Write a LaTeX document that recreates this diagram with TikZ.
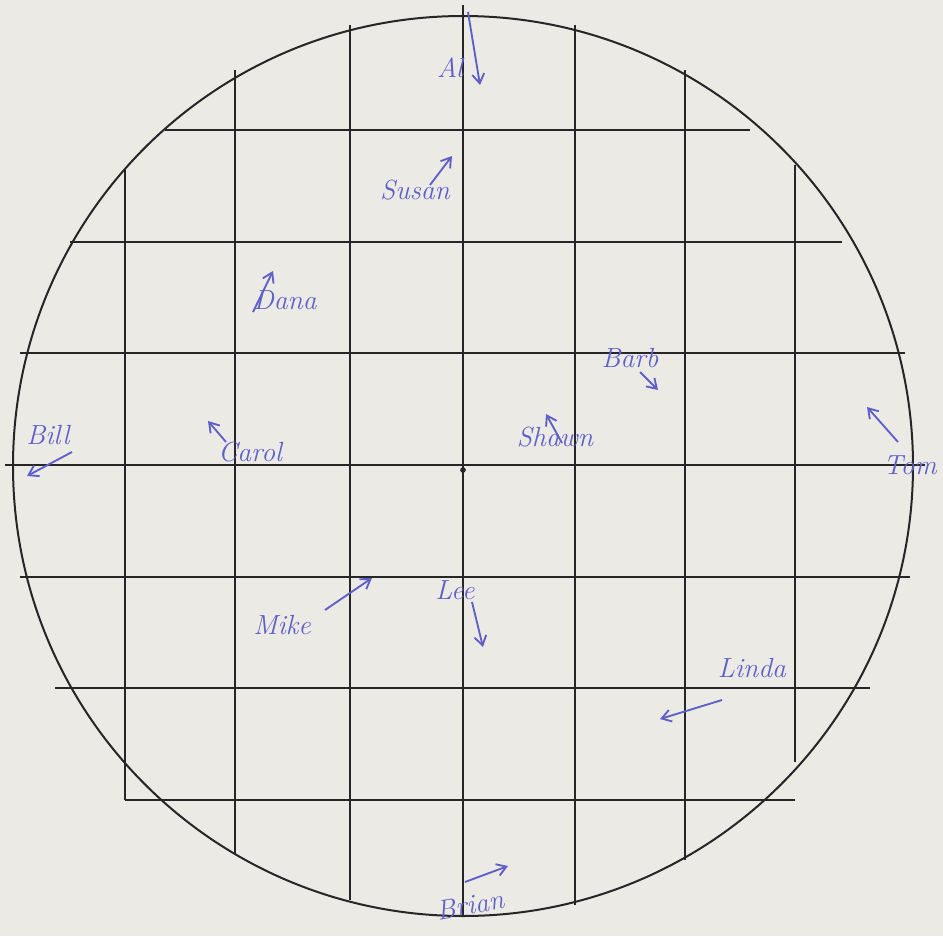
\documentclass[tikz,border=0pt]{standalone}
\usetikzlibrary{arrows.meta}
\definecolor{paper}{RGB}{236,234,229}
\definecolor{pencil}{RGB}{38,38,38}
\definecolor{ink}{RGB}{95,95,200}
\tikzset{
  gridline/.style={draw=pencil, line width=1.5pt},
  personname/.style={text=ink, font=\itshape\huge, inner sep=1pt},
  arr/.style={draw=ink, line width=1.4pt, -{Straight Barb[length=7pt,width=9pt]}},
}
\begin{document}
\begin{tikzpicture}[x=0.75pt,y=-0.75pt]
\path[fill=paper] (0,0) rectangle (943,936);
\useasboundingbox (0,0) rectangle (943,936);
% horizontal grid lines
\draw[gridline] (165,130) -- (750,130);
\draw[gridline] (70,242) -- (842,242);
\draw[gridline] (20,353) -- (905,353);
\draw[gridline] (5,465) -- (925,465);
\draw[gridline] (20,577) -- (910,577);
\draw[gridline] (55,688) -- (870,688);
\draw[gridline] (125,800) -- (795,800);
% vertical grid lines
\draw[gridline] (125,170) -- (125,800);
\draw[gridline] (235,70) -- (235,855);
\draw[gridline] (350,25) -- (350,900);
\draw[gridline] (463,5) -- (463,915);
\draw[gridline] (575,25) -- (575,905);
\draw[gridline] (685,70) -- (685,860);
\draw[gridline] (795,165) -- (795,762);
% circle
\node[draw=pencil, line width=1.5pt, circle, minimum size=675pt, inner sep=0pt] (rim) at (463,466) {};
\node[fill=pencil, circle, inner sep=1.5pt] (centre) at (463,470) {};
% names
\node[personname] (al) at (450,68) {Al};
\node[personname] (susan) at (415,190) {Susan};
\node[personname] (dana) at (285,300) {Dana};
\node[personname] (barb) at (630,358) {Barb};
\node[personname] (bill) at (48,435) {Bill};
\node[personname] (carol) at (250,452) {Carol};
\node[personname] (shawn) at (555,437) {Shawn};
\node[personname] (tom) at (910,465) {Tom};
\node[personname] (mike) at (282,625) {Mike};
\node[personname] (lee) at (455,590) {Lee};
\node[personname] (linda) at (752,668) {Linda};
\node[personname, rotate=10] (brian) at (470,905) {Brian};
% arrows
\coordinate (alT) at (468,12); \coordinate (alH) at (480,85);
\coordinate (suT) at (430,185); \coordinate (suH) at (452,156);
\coordinate (daT) at (253,312); \coordinate (daH) at (273,271);
\coordinate (baT) at (640,372); \coordinate (baH) at (658,390);
\coordinate (biT) at (72,452); \coordinate (biH) at (27,476);
\coordinate (caT) at (226,442); \coordinate (caH) at (208,421);
\coordinate (shT) at (562,443); \coordinate (shH) at (546,414);
\coordinate (toT) at (898,442); \coordinate (toH) at (867,407);
\coordinate (miT) at (325,610); \coordinate (miH) at (372,578);
\coordinate (leT) at (472,602); \coordinate (leH) at (483,647);
\coordinate (liT) at (722,700); \coordinate (liH) at (660,719);
\coordinate (brT) at (465,882); \coordinate (brH) at (508,866);
\draw[arr] (alT) -- (alH);
\draw[arr] (suT) -- (suH);
\draw[arr] (daT) -- (daH);
\draw[arr] (baT) -- (baH);
\draw[arr] (biT) -- (biH);
\draw[arr] (caT) -- (caH);
\draw[arr] (shT) -- (shH);
\draw[arr] (toT) -- (toH);
\draw[arr] (miT) -- (miH);
\draw[arr] (leT) -- (leH);
\draw[arr] (liT) -- (liH);
\draw[arr] (brT) -- (brH);
\end{tikzpicture}
\end{document}
